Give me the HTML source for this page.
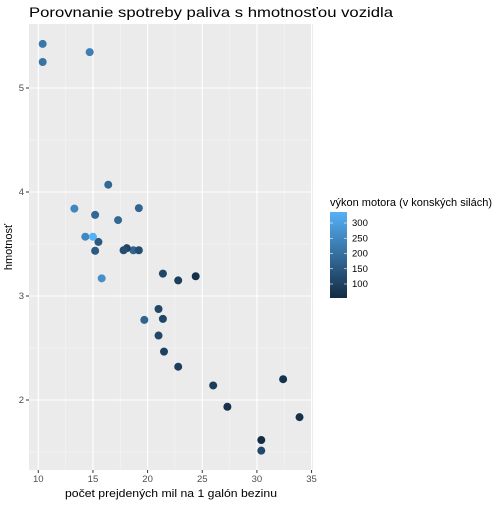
<!DOCTYPE html>
<html><head><meta charset="utf-8"><style>
body{margin:0;background:#fff;font-family:"Liberation Sans",sans-serif}
</style></head><body>
<svg id="c" width="504" height="504" xmlns="http://www.w3.org/2000/svg">
<defs><linearGradient id="g" x1="0" y1="1" x2="0" y2="0"><stop offset="0" stop-color="#132B43"/><stop offset="1" stop-color="#56B1F7"/></linearGradient></defs>
<text x="29" y="17" font-size="14" textLength="364" lengthAdjust="spacingAndGlyphs" fill="#000">Porovnanie spotreby paliva s hmotnosťou vozidla</text>
<rect x="29" y="24" width="284" height="446" fill="#EBEBEB"/>
<g id="grid"></g><g id="pts"></g><g id="axes"></g>
<text x="171" y="497" font-size="11" text-anchor="middle" textLength="212" lengthAdjust="spacingAndGlyphs" fill="#000">počet prejdených mil na 1 galón bezinu</text>
<text transform="translate(12,247) rotate(-90)" font-size="11" text-anchor="middle" fill="#000">hmotnosť</text>
<text x="330" y="206" font-size="11" fill="#000">výkon motora (v konských silách)</text>
<rect x="330" y="212" width="17" height="86" fill="url(#g)"/>
<g id="leg"></g>
</svg>
<script>
const mpg=[21,21,22.8,21.4,18.7,18.1,14.3,24.4,22.8,19.2,17.8,16.4,17.3,15.2,10.4,10.4,14.7,32.4,30.4,33.9,21.5,15.5,15.2,13.3,19.2,27.3,26,30.4,15.8,19.7,15,21.4];
const wt=[2.62,2.875,2.32,3.215,3.44,3.46,3.57,3.19,3.15,3.44,3.44,4.07,3.73,3.78,5.25,5.424,5.345,2.2,1.615,1.835,2.465,3.52,3.435,3.84,3.845,1.935,2.14,1.513,3.17,2.77,3.57,2.78];
const hp=[110,110,93,110,175,105,245,62,95,123,123,180,180,180,205,215,230,66,52,65,97,150,150,245,175,66,91,113,264,175,335,109];
const xTicks=[10,15,20,25,30,35];
const yTicks=[2,3,4,5];
const cTicks=[100,150,200,250,300];
const NS="http://www.w3.org/2000/svg";
const X=v=>38.3+(v-10)*10.93, Y=v=>400-(v-2)*104, C=v=>223+(300-v)*0.305;
function mk(t,a,p){const e=document.createElementNS(NS,t);for(const k in a)e.setAttribute(k,a[k]);p.appendChild(e);return e;}
const grid=document.getElementById('grid'),axes=document.getElementById('axes');
xTicks.forEach((t,i)=>{if(i<xTicks.length-1){const m=mk('line',{x1:X(t+2.5),x2:X(t+2.5),y1:24,y2:470,stroke:'#F5F5F5','stroke-width':0.6},grid);}
const l=mk('line',{x1:X(t),x2:X(t),y1:24,y2:470,stroke:'#fff','stroke-width':1.1},grid);
mk('line',{x1:X(t),x2:X(t),y1:470,y2:473,stroke:'#333'},axes);
const tx=mk('text',{x:X(t),y:482,'font-size':9.5,'text-anchor':'middle',fill:'#4D4D4D'},axes);tx.textContent=t;});
[1.5,2.5,3.5,4.5].forEach(t=>{const m=mk('line',{x1:29,x2:313,y1:Y(t),y2:Y(t),stroke:'#F5F5F5','stroke-width':0.6},grid);});
yTicks.forEach(t=>{const l=mk('line',{x1:29,x2:313,y1:Y(t),y2:Y(t),stroke:'#fff','stroke-width':1.1},grid);
mk('line',{x1:26,x2:29,y1:Y(t),y2:Y(t),stroke:'#333'},axes);
const tx=mk('text',{x:24,y:Y(t)+3,'font-size':9.5,'text-anchor':'end',fill:'#4D4D4D'},axes);tx.textContent=t;});
function col(h){const f=Math.max(0,Math.min(1,(h-52)/(335-52)));const a=[0x13,0x2B,0x43],b=[0x56,0xB1,0xF7];return 'rgb('+a.map((v,i)=>Math.round(v+(b[i]-v)*f)).join(',')+')';}
const pts=document.getElementById('pts');
mpg.forEach((m,i)=>{const c=mk('circle',{cx:X(m),cy:Y(wt[i]),r:4,fill:col(hp[i])},pts);});
const leg=document.getElementById('leg');
cTicks.forEach(t=>{mk('line',{x1:330,x2:333,y1:C(t),y2:C(t),stroke:'#fff','stroke-width':0.6},leg);mk('line',{x1:344,x2:347,y1:C(t),y2:C(t),stroke:'#fff','stroke-width':0.6},leg);
const tx=mk('text',{x:352,y:C(t)+3,'font-size':9.5,fill:'#000'},leg);tx.textContent=t;});
</script>
</body></html>
